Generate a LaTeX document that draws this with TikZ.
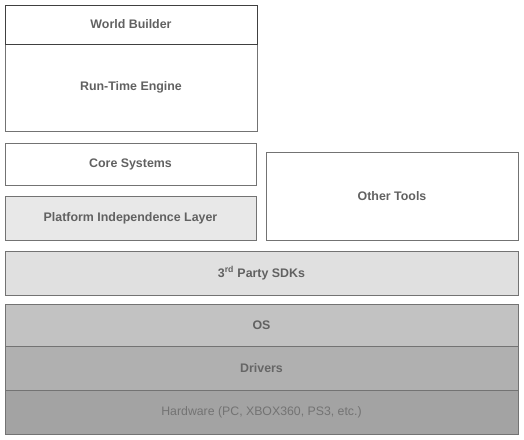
\documentclass[tikz,border=0pt]{standalone}
\usepackage{fontspec}
\setmainfont{Liberation Sans}
\begin{document}
\begin{tikzpicture}[x=1pt,y=-1pt,
  layer/.style={draw=black!55,line width=0.9pt,inner sep=0pt,outer sep=0pt,
    font=\fontsize{12.4}{14}\selectfont\bfseries,text=black!62},
  wide/.style={layer,minimum width=513pt},
  left/.style={layer,minimum width=251pt}]
\useasboundingbox (0,0) rectangle (524,439);
\node[left,minimum width=252pt,minimum height=87pt] (rte) at (131,87.5) {Run-Time Engine};
\node[left,minimum width=252pt,minimum height=39pt,draw=black!75] (wb) at (131,24.5) {World Builder};
\node[left,minimum height=42pt] (core) at (130.5,164) {Core Systems};
\node[left,minimum height=44pt,fill=black!9] (pil) at (130.5,218) {Platform Independence Layer};
\node[layer,minimum width=252pt,minimum height=88pt] (other) at (392,196) {Other Tools};
\node[wide,minimum height=44pt,fill=black!12] (sdk) at (261.5,273) {3\textsuperscript{rd} Party SDKs};
\node[wide,minimum height=42pt,fill=black!24] (os) at (261.5,325) {OS};
\node[wide,minimum height=44pt,fill=black!31,text=black!60] (drv) at (261.5,368) {Drivers};
\node[wide,minimum height=44pt,fill=black!36,text=black!55,font=\fontsize{12.3}{14}\selectfont] (hw) at (261.5,412) {Hardware (PC, XBOX360, PS3, etc.)};
\end{tikzpicture}
\end{document}
